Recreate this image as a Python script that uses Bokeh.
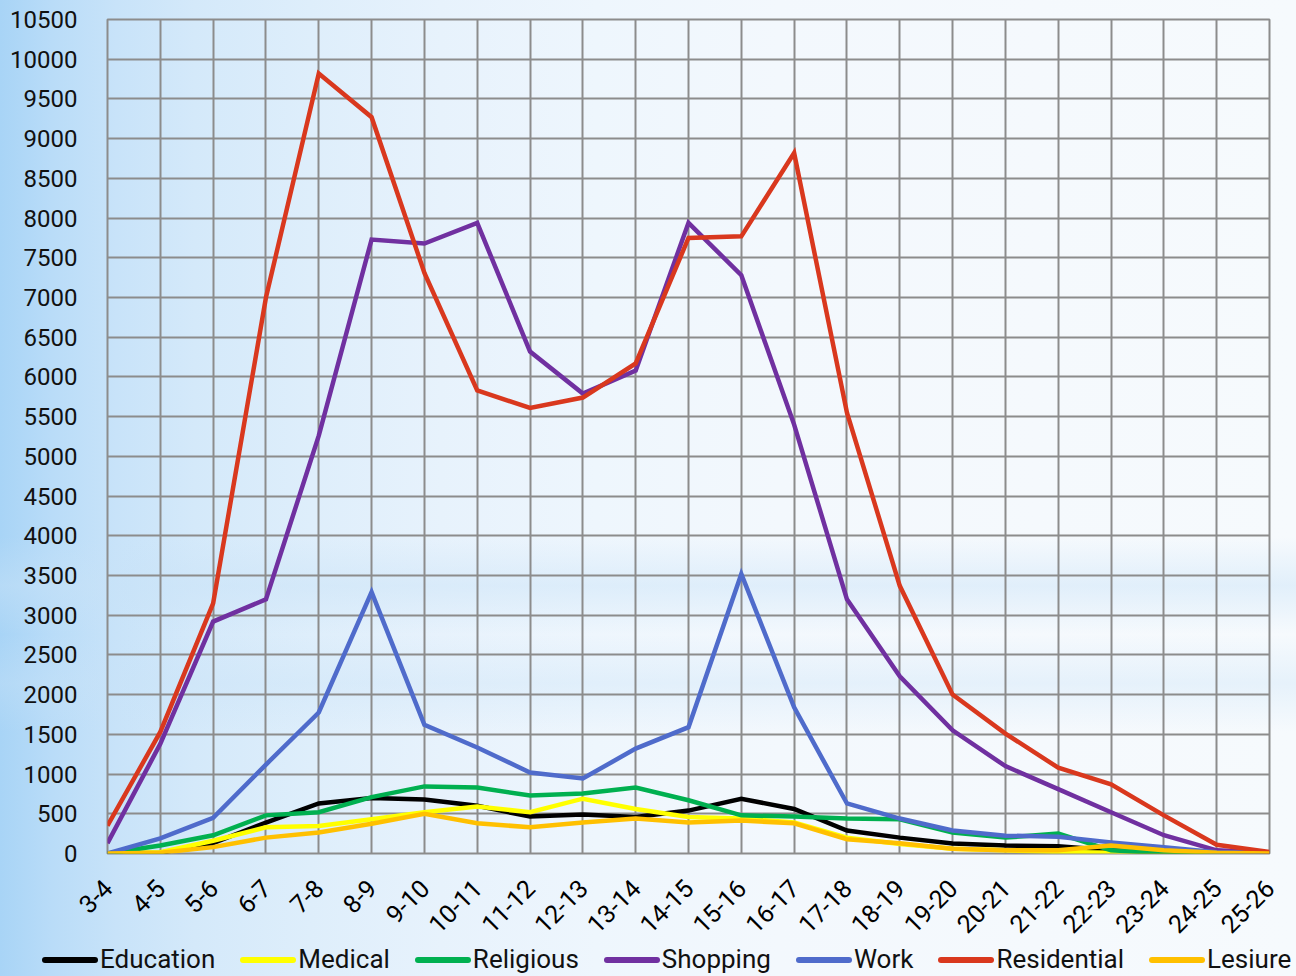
import math
from bokeh.plotting import figure
from bokeh.layouts import column
from bokeh.models import Range1d, FixedTicker, Div
from bokeh.embed import file_html
from bokeh.resources import INLINE

hours = ["3-4", "4-5", "5-6", "6-7", "7-8", "8-9", "9-10", "10-11", "11-12", "12-13",
         "13-14", "14-15", "15-16", "16-17", "17-18", "18-19", "19-20", "20-21", "21-22",
         "22-23", "23-24", "24-25", "25-26"]

education = [0, 10, 130, 390, 630, 700, 680, 600, 465, 490, 460, 540, 690, 560, 290, 200,
             125, 100, 90, 40, 10, 0, 0]
medical = [0, 15, 160, 330, 345, 430, 520, 590, 520, 690, 560, 460, 440, 390, 200, 120,
           60, 40, 20, 10, 5, 0, 0]
religious = [0, 100, 230, 480, 520, 710, 845, 830, 730, 755, 830, 670, 480, 465, 440, 430,
             265, 200, 250, 40, 5, 0, 0]
shopping = [130, 1380, 2920, 3200, 5260, 7730, 7680, 7940, 6320, 5790, 6080, 7940, 7280,
            5400, 3200, 2230, 1550, 1100, 810, 520, 230, 40, 10]
work = [0, 190, 450, 1120, 1775, 3290, 1620, 1335, 1020, 945, 1320, 1590, 3520, 1840, 630,
        440, 290, 225, 210, 140, 80, 15, 0]
residential = [350, 1530, 3150, 7000, 9820, 9270, 7310, 5830, 5610, 5740, 6170, 7750, 7770,
               8820, 5550, 3370, 2000, 1510, 1080, 870, 480, 110, 20]
leisure = [0, 10, 80, 200, 265, 375, 500, 380, 330, 390, 440, 390, 415, 380, 180, 130,
           60, 40, 40, 100, 40, 10, 0]

series_names = ["Education", "Medical", "Religious", "Shopping", "Work", "Residential", "Lesiure"]
series_values = [education, medical, religious, shopping, work, residential, leisure]
series_colors = ["#000000", "#ffff00", "#00b050", "#7030a0", "#4f6bcb", "#d9381e", "#ffc000"]

y_ticks = list(range(0, 10501, 500))
x = list(range(len(hours)))

p = figure(width=1296, height=944, output_backend="svg", toolbar_location=None,
           x_range=Range1d(0, len(hours) - 1), y_range=Range1d(0, 10500),
           min_border_left=107, min_border_right=27, min_border_top=19, min_border_bottom=91)

p.background_fill_alpha = 0
p.border_fill_alpha = 0
p.outline_line_color = "#8c8c8c"
p.outline_line_width = 2

p.xaxis.ticker = FixedTicker(ticks=x)
p.xaxis.major_label_overrides = {i: h for i, h in zip(x, hours)}
p.xaxis.major_label_orientation = math.pi / 4
p.xaxis.major_label_text_font = "Roboto"
p.xaxis.major_label_text_font_size = "25px"
p.xaxis.major_label_text_color = "#000000"
p.xaxis.major_label_standoff = 24
p.xaxis.axis_line_alpha = 0
p.xaxis.major_tick_line_alpha = 0
p.xaxis.minor_tick_line_alpha = 0

p.yaxis.ticker = FixedTicker(ticks=y_ticks)
p.yaxis.major_label_text_font = "Roboto"
p.yaxis.major_label_text_font_size = "24px"
p.yaxis.major_label_text_color = "#111111"
p.yaxis.major_label_standoff = 24
p.yaxis.axis_line_alpha = 0
p.yaxis.major_tick_line_alpha = 0
p.yaxis.minor_tick_line_alpha = 0

p.xgrid.ticker = FixedTicker(ticks=x)
p.ygrid.ticker = FixedTicker(ticks=y_ticks)
for g in (p.xgrid, p.ygrid):
    g.grid_line_color = "#8c8c8c"
    g.grid_line_width = 2

for name, vals, col in zip(series_names, series_values, series_colors):
    p.line(x, vals, line_color=col, line_width=4.5, line_join="miter")

# legend strip (HTML) below the chart
parts = []
for name, col in zip(series_names, series_colors):
    parts.append(
        '<span style="display:inline-flex;align-items:center;margin-right:25px;">'
        '<span style="display:inline-block;width:56px;height:6px;border-radius:3px;'
        'background:%s;margin-right:2px;"></span>'
        '<span>%s</span></span>' % (col, name))
legend_html = ('<div style="display:flex;align-items:center;height:32px;padding-left:42px;'
               'font-family:Roboto;font-size:26px;color:#111111;white-space:nowrap;">'
               + "".join(parts) + '</div>')
lg = Div(text=legend_html, width=1296, height=32, styles={"margin": "0", "padding": "0"})

layout = column(p, lg, spacing=0)
layout.styles = {"background": (
    "linear-gradient(180deg, rgba(200,226,247,0) 55%, rgba(200,226,247,0.45) 60%, "
    "rgba(200,226,247,0) 65%, rgba(200,226,247,0.35) 70%, rgba(200,226,247,0) 75%), "
    "linear-gradient(90deg, #a8d4f6 0%, #b9dcf8 4%, #c8e3f9 9%, #d4e9fa 15%, #deeefb 24%, "
    "#e7f2fc 34%, #eef6fd 46%, #f3f8fd 60%, #f5f9fd 80%, #f6fafd 100%)")}

open("out.html", "w").write(file_html(layout, INLINE))
